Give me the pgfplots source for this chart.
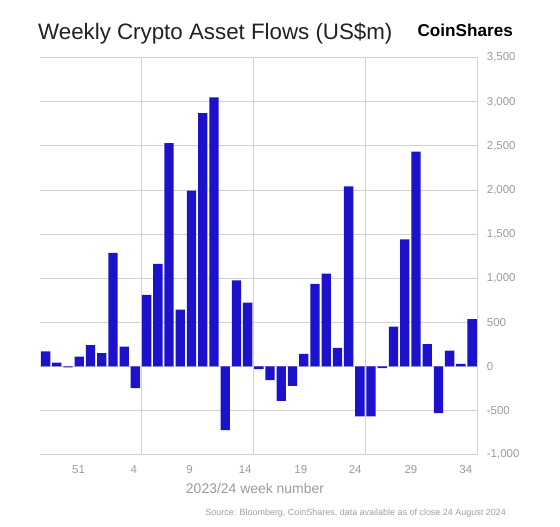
\documentclass[border=0pt]{standalone}
\usepackage{fontspec}
\setmainfont{Liberation Sans}
\usepackage{pgfplots}
\pgfplotsset{compat=1.18}
\definecolor{barblue}{RGB}{28,18,204}
\definecolor{gridgray}{RGB}{210,210,210}
\definecolor{lblgray}{RGB}{155,155,155}
\definecolor{srcgray}{RGB}{160,160,160}
\definecolor{titlecol}{RGB}{34,34,34}
\begin{document}
\begin{tikzpicture}[x=1bp,y=1bp]
\path[use as bounding box, fill=white] (0,0) rectangle (560,527);
\begin{axis}[
  at={(40bp,72.3bp)}, anchor=south west,
  width=437.7bp, height=397bp, scale only axis,
  xmin=-0.5, xmax=38.5, ymin=-1000, ymax=3500,
  axis line style={draw=none},
  tick style={draw=none},
  major tick length=0pt,
  ytick={-1000,-500,0,500,1000,1500,2000,2500,3000,3500},
  yticklabels={{-1,000},{-500},{0},{500},{1,000},{1,500},{2,000},{2,500},{3,000},{3,500}},
  yticklabel pos=right,
  yticklabel style={anchor=west, inner sep=0pt, xshift=9bp, font=\fontsize{11.5}{13}\selectfont, text=lblgray},
  ymajorgrids,
  grid style={gridgray, line width=0.9bp},
  xtick={2.94,7.85,12.82,17.78,22.74,27.58,32.55,37.44},
  xticklabels={51,4,9,14,19,24,29,34},
  xticklabel style={anchor=base, inner sep=0pt, yshift=-18.7bp, font=\fontsize{11.5}{13}\selectfont, text=lblgray},
  extra x ticks={8.5,18.5,28.5,38.5},
  extra x tick labels={},
  extra x tick style={grid=major},
  clip=false,
]
\addplot[ybar, bar width=0.83, fill=barblue, draw=none] coordinates {
(0,170) (1,45) (2,-10) (3,113) (4,241) (5,151) (6,1287) (7,226) (8,-245) (9,811)
(10,1162) (11,2532) (12,645) (13,1992) (14,2872) (15,3049) (16,-721) (17,977) (18,725) (19,-30)
(20,-155) (21,-389) (22,-219) (23,143) (24,936) (25,1053) (26,211) (27,2042) (28,-566) (29,-566)
(30,-19) (31,453) (32,1442) (33,2434) (34,253) (35,-528) (36,181) (37,30) (38,536)
};
\end{axis}
\node[anchor=base west, inner sep=0pt, text=titlecol, font=\fontsize{22.4}{25}\selectfont] at (38,487) {Weekly Crypto Asset Flows (US\$m)};
\node[anchor=base east, inner sep=0pt, text=black, font=\fontsize{17.2}{20}\selectfont\bfseries] at (513,490.3) {CoinShares};
\node[anchor=base, inner sep=0pt, text=lblgray, font=\fontsize{14}{16}\selectfont] at (255,33.7) {2023/24 week number};
\node[anchor=base east, inner sep=0pt, text=srcgray, font=\fontsize{9}{11}\selectfont] at (506,11) {Source: Bloomberg, CoinShares, data available as of close 24 August 2024};
\end{tikzpicture}
\end{document}
